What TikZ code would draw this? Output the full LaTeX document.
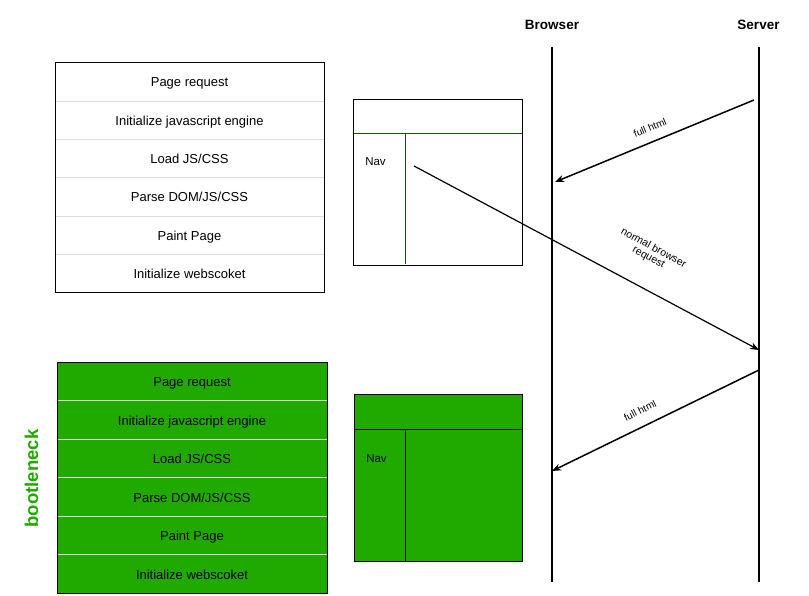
\documentclass[tikz,border=0pt]{standalone}
\usepackage{fontspec}
\setmainfont{Liberation Sans}
\usetikzlibrary{arrows.meta}
\definecolor{gfill}{HTML}{20AA00}
\definecolor{dgreen}{HTML}{1E5010}
\definecolor{divider}{HTML}{DDDDDD}
\begin{document}
\begin{tikzpicture}[x=1pt,y=-1pt,
  rowtext/.style={font=\fontsize{13}{15}\selectfont, inner sep=0pt, text height=9.5pt, text depth=2.5pt, yshift=-1.8pt},
  lbl/.style={font=\fontsize{10}{11}\selectfont, inner sep=0pt, align=center},
  lifeline/.style={line width=2pt},
  msg/.style={line width=1.5pt, -{Stealth[length=9pt,width=7pt]}},
  head/.style={font=\bfseries\fontsize{13.5}{15}\selectfont, inner sep=0pt, text height=10pt, text depth=0pt}]
\useasboundingbox (0,0) rectangle (809,596);
% ---- top table
\node[draw, line width=0.8pt, minimum width=269pt, minimum height=230pt, inner sep=0pt] (tab1) at (189.5,177) {};
\foreach \y in {101,139.3,177.6,216,254.3}{\draw[divider, line width=0.8pt] (55.5,\y) -- (323.5,\y);}
\node[rowtext] (a1) at (189.5,81.5) {Page request};
\node[rowtext] (a2) at (189.5,120) {Initialize javascript engine};
\node[rowtext] (a3) at (189.5,158.5) {Load JS/CSS};
\node[rowtext] (a4) at (189.5,196.5) {Parse DOM/JS/CSS};
\node[rowtext] (a5) at (189.5,235) {Paint Page};
\node[rowtext] (a6) at (189.5,273) {Initialize webscoket};
% ---- bottom table
\node[draw, fill=gfill, line width=0.8pt, minimum width=270pt, minimum height=231pt, inner sep=0pt] (tab2) at (192,477.5) {};
\foreach \y in {400.5,439,477.5,516,554.5}{\draw[divider, line width=0.8pt] (57.5,\y) -- (326.5,\y);}
\node[rowtext] (b1) at (192,381.5) {Page request};
\node[rowtext] (b2) at (192,420) {Initialize javascript engine};
\node[rowtext] (b3) at (192,458.5) {Load JS/CSS};
\node[rowtext] (b4) at (192,497) {Parse DOM/JS/CSS};
\node[rowtext] (b5) at (192,535.5) {Paint Page};
\node[rowtext] (b6) at (192,574) {Initialize webscoket};
\node[font=\bfseries\fontsize{18.5}{20}\selectfont, text=gfill, rotate=90, inner sep=0pt, text height=13pt, text depth=4pt] (bn) at (33.5,478.5) {bootleneck};
% ---- top browser mock
\node[draw, line width=0.8pt, minimum width=169pt, minimum height=166pt, inner sep=0pt] (m1) at (437.5,182) {};
\draw[dgreen, line width=0.8pt] (353.5,133) -- (521.5,133);
\draw[dgreen, line width=0.8pt] (405,133) -- (405,264.5);
\node[font=\fontsize{11.5}{13}\selectfont, inner sep=0pt, text height=8.5pt, text depth=0pt] (nav1) at (375.5,161) {Nav};
% ---- bottom browser mock
\node[draw, fill=gfill, line width=0.8pt, minimum width=168pt, minimum height=167pt, inner sep=0pt] (m2) at (438,477.5) {};
\draw[line width=0.8pt] (354.5,429.5) -- (521.5,429.5);
\draw[line width=0.8pt] (405.5,429.5) -- (405.5,560.5);
\node[font=\fontsize{11.5}{13}\selectfont, inner sep=0pt, text height=8.5pt, text depth=0pt] (nav2) at (376.5,458.5) {Nav};
% ---- lifelines
\node[head] (browser) at (552,24.5) {Browser};
\node[head] (server) at (758.5,24.5) {Server};
\coordinate (bt) at (552,47); \coordinate (bb) at (552,582);
\coordinate (st) at (759,47); \coordinate (sb) at (759,582);
\draw[lifeline] (bt) -- (bb);
\draw[lifeline] (st) -- (sb);
% ---- messages
\coordinate (s1) at (754,100); \coordinate (e1) at (555,182);
\draw[msg] (s1) -- (e1);
\node[lbl, rotate=22.4] (l1) at (650,127.5) {full html};
\coordinate (s2) at (414,166); \coordinate (e2) at (759,350);
\draw[msg, line width=1.2pt] (s2) -- (e2);
\node[lbl, rotate=-28.3, font=\fontsize{10.5}{10.5}\selectfont] (l2) at (651,253) {normal browser\\request};
\coordinate (s3) at (759,370); \coordinate (e3) at (552,471);
\draw[msg] (s3) -- (e3);
\node[lbl, rotate=26] (l3) at (640,410.5) {full html};
\end{tikzpicture}
\end{document}
